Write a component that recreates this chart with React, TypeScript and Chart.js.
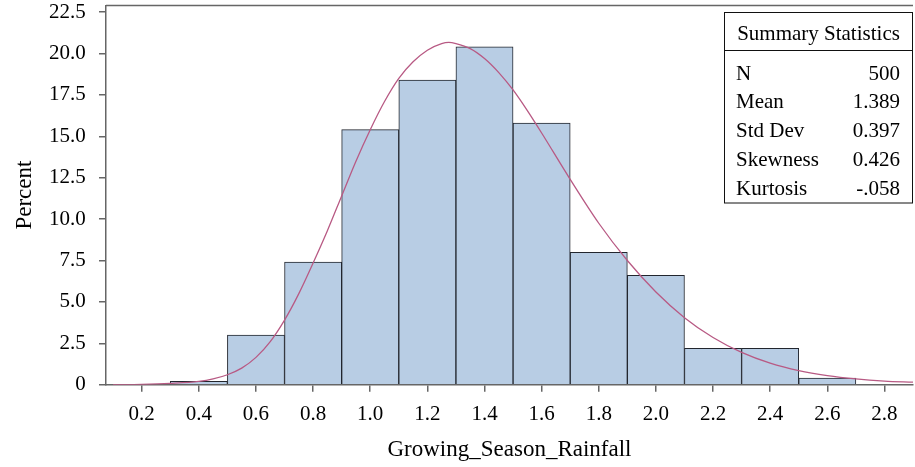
import React, { useEffect, useRef } from "react";
import { Chart, registerables } from "chart.js";

Chart.register(...registerables);

// ---- data ----
const BIN_MIDPOINTS = [0.4, 0.6, 0.8, 1.0, 1.2, 1.4, 1.6, 1.8, 2.0, 2.2, 2.4, 2.6];
const BIN_PERCENTS = [0.2, 3.0, 7.4, 15.4, 18.4, 20.4, 15.8, 8.0, 6.6, 2.2, 2.2, 0.4];

const CURVE_X = [
  0.1, 0.2, 0.3, 0.4, 0.45, 0.5, 0.55, 0.6, 0.65, 0.7, 0.75, 0.8, 0.85, 0.9, 0.95, 1.0, 1.05,
  1.1, 1.15, 1.2, 1.25, 1.275, 1.3, 1.35, 1.4, 1.45, 1.5, 1.55, 1.6, 1.7, 1.8, 1.9, 2.0, 2.1,
  2.2, 2.3, 2.4, 2.5, 2.6, 2.7, 2.8, 2.9,
];
const CURVE_Y = [
  0.0, 0.02, 0.08, 0.2, 0.35, 0.6, 1.0, 1.65, 2.6, 3.9, 5.5, 7.35, 9.3, 11.4, 13.5, 15.4, 17.1,
  18.5, 19.5, 20.2, 20.6, 20.67, 20.6, 20.3, 19.7, 18.85, 17.8, 16.55, 15.2, 12.4, 9.75, 7.5,
  5.6, 4.05, 2.85, 1.95, 1.3, 0.85, 0.55, 0.35, 0.22, 0.15,
];

const X_TICKS = [0.2, 0.4, 0.6, 0.8, 1.0, 1.2, 1.4, 1.6, 1.8, 2.0, 2.2, 2.4, 2.6, 2.8];
const X_TICK_LABELS = ["0.2", "0.4", "0.6", "0.8", "1.0", "1.2", "1.4", "1.6", "1.8", "2.0", "2.2", "2.4", "2.6", "2.8"];
const Y_TICKS = [0, 2.5, 5, 7.5, 10, 12.5, 15, 17.5, 20, 22.5];
const Y_TICK_LABELS = ["0", "2.5", "5.0", "7.5", "10.0", "12.5", "15.0", "17.5", "20.0", "22.5"];

const X_TITLE = "Growing_Season_Rainfall";
const Y_TITLE = "Percent";
const TABLE_TITLE = "Summary Statistics";
const STAT_LABELS = ["N", "Mean", "Std Dev", "Skewness", "Kurtosis"];
const STAT_VALUES = ["500", "1.389", "0.397", "0.426", "-.058"];

// ---- styles ----
const FONT_FAMILY = "'Liberation Serif', 'Times New Roman', Times, serif";
const FONT_SIZE = 21;
const TITLE_SIZE = 23;
const AXIS_COLOR = "#666666";
const BAR_FILL = "#b8cde4";
const BAR_BORDER = "#22262e";
const CURVE_COLOR = "#b85a84";

const statsTablePlugin = {
  id: "statsTable",
  afterDraw(chart: any) {
    const { ctx, chartArea } = chart;
    ctx.save();
    // top frame line
    ctx.strokeStyle = AXIS_COLOR;
    ctx.lineWidth = 1.5;
    ctx.beginPath();
    ctx.moveTo(chartArea.left, chartArea.top);
    ctx.lineTo(chartArea.right, chartArea.top);
    ctx.stroke();

    // summary statistics box
    const bx = chartArea.right - 188.5;
    const by = chartArea.top + 7;
    const bw = 188;
    const bh = 190.5;
    ctx.fillStyle = "#ffffff";
    ctx.fillRect(bx, by, bw, bh);
    ctx.strokeStyle = "#111111";
    ctx.lineWidth = 1;
    ctx.strokeRect(bx, by, bw, bh);
    ctx.beginPath();
    ctx.moveTo(bx, by + 38);
    ctx.lineTo(bx + bw, by + 38);
    ctx.stroke();

    ctx.fillStyle = "#000000";
    ctx.font = `${FONT_SIZE}px ${FONT_FAMILY}`;
    ctx.textBaseline = "alphabetic";
    ctx.textAlign = "center";
    ctx.fillText(TABLE_TITLE, bx + bw / 2, by + 27);
    for (let i = 0; i < STAT_LABELS.length; i++) {
      const y = by + 67 + i * 28.9;
      ctx.textAlign = "left";
      ctx.fillText(STAT_LABELS[i], bx + 11.5, y);
      ctx.textAlign = "right";
      ctx.fillText(STAT_VALUES[i], bx + bw - 12.5, y);
    }
    ctx.restore();
  },
};

export default function App() {
  const canvasRef = useRef<HTMLCanvasElement | null>(null);

  useEffect(() => {
    const canvas = canvasRef.current;
    if (!canvas) return;
    Chart.defaults.font.family = FONT_FAMILY;
    Chart.defaults.font.size = FONT_SIZE;
    Chart.defaults.color = "#000000";

    const chart = new Chart(canvas, {
      type: "bar",
      data: {
        datasets: [
          {
            type: "line",
            data: CURVE_X.map((x, i) => ({ x, y: CURVE_Y[i] })),
            borderColor: CURVE_COLOR,
            borderWidth: 1.3,
            pointRadius: 0,
            cubicInterpolationMode: "monotone",
            fill: false,
            order: 0,
          } as any,
          {
            type: "bar",
            data: BIN_MIDPOINTS.map((x, i) => ({ x, y: BIN_PERCENTS[i] })),
            backgroundColor: BAR_FILL,
            borderColor: BAR_BORDER,
            borderWidth: 1,
            barPercentage: 1,
            categoryPercentage: 1,
            grouped: false,
            order: 1,
          } as any,
        ],
      },
      options: {
        responsive: false,
        animation: false,
        events: [],
        layout: { padding: { top: 5.5, right: 2, left: 0, bottom: 0 } },
        plugins: {
          legend: { display: false },
          tooltip: { enabled: false },
        },
        scales: {
          x: {
            type: "linear",
            min: 0.075,
            max: 2.9,
            offset: false,
            afterBuildTicks: (axis: any) => {
              axis.ticks = X_TICKS.map((v) => ({ value: v }));
            },
            afterFit: (axis: any) => {
              axis.height = 82.3;
              axis.paddingLeft = 0;
              axis.paddingRight = 0;
            },
            ticks: {
              autoSkip: false,
              maxRotation: 0,
              minRotation: 0,
              padding: 10.3,
              color: "#000",
              font: { size: FONT_SIZE, family: FONT_FAMILY },
              callback: (_v: any, i: number) => X_TICK_LABELS[i],
            },
            grid: {
              display: true,
              offset: false,
              drawOnChartArea: false,
              drawTicks: true,
              tickLength: 7,
              color: AXIS_COLOR,
              lineWidth: 1.5,
            },
            border: { display: true, color: AXIS_COLOR, width: 1.5 },
            title: {
              display: true,
              text: X_TITLE,
              color: "#000",
              font: { size: TITLE_SIZE, family: FONT_FAMILY },
              padding: { top: 0, bottom: 3.7 },
            },
          },
          y: {
            type: "linear",
            min: 0,
            max: 22.9,
            afterBuildTicks: (axis: any) => {
              axis.ticks = Y_TICKS.map((v) => ({ value: v }));
            },
            afterFit: (axis: any) => {
              axis.width = 106;
              axis.paddingTop = 0;
              axis.paddingBottom = 0;
            },
            ticks: {
              autoSkip: false,
              padding: 13.3,
              color: "#000",
              font: { size: FONT_SIZE, family: FONT_FAMILY },
              callback: (_v: any, i: number) => Y_TICK_LABELS[i],
            },
            grid: {
              display: true,
              drawOnChartArea: false,
              drawTicks: true,
              tickLength: 7,
              color: AXIS_COLOR,
              lineWidth: 1.5,
            },
            border: { display: true, color: AXIS_COLOR, width: 1.5 },
            title: {
              display: true,
              text: Y_TITLE,
              color: "#000",
              font: { size: TITLE_SIZE, family: FONT_FAMILY },
              padding: { top: 10.7, bottom: 0 },
            },
          },
        },
      } as any,
      plugins: [statsTablePlugin],
    });

    return () => {
      chart.destroy();
    };
  }, []);

  return (
    <div
      style={{
        position: "fixed",
        left: 0,
        top: 0,
        width: 915,
        height: 467,
        background: "#ffffff",
      }}
    >
      <canvas ref={canvasRef} width={915} height={467} style={{ display: "block" }} />
    </div>
  );
}
